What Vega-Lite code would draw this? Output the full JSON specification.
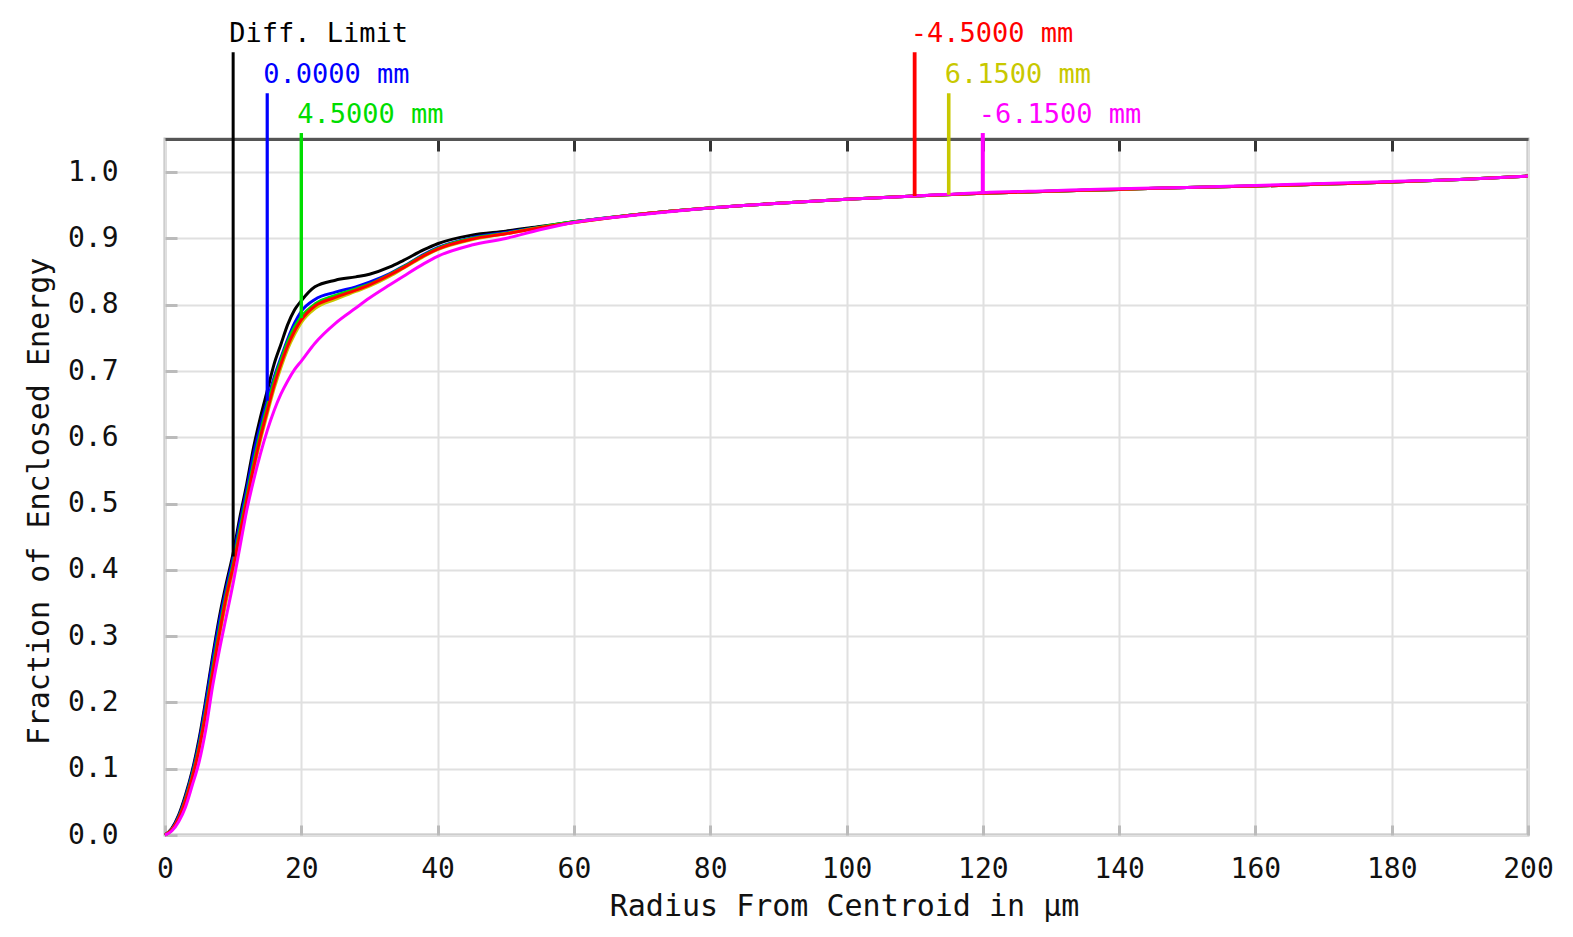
{
  "$schema": "https://vega.github.io/schema/vega-lite/v6.json",
  "width": 1363,
  "height": 696,
  "autosize": "none",
  "padding": {"left": 165, "top": 139, "right": 45, "bottom": 102},
  "background": "white",
  "config": {
    "font": "DejaVu Sans Mono",
    "view": {"stroke": "#bbbbbb", "strokeWidth": 3},
    "axis": {
      "labelFont": "DejaVu Sans Mono",
      "titleFont": "DejaVu Sans Mono",
      "labelColor": "#111111",
      "titleColor": "#111111",
      "labelFontSize": 28,
      "titleFontSize": 30,
      "titleFontWeight": "normal"
    }
  },
  "datasets": {
    "curves": [
      {"s": "Diff. Limit", "r": 0, "e": 0}, {"s": "Diff. Limit", "r": 1, "e": 0.01}, {"s": "Diff. Limit", "r": 2, "e": 0.03},
      {"s": "Diff. Limit", "r": 3, "e": 0.06}, {"s": "Diff. Limit", "r": 4, "e": 0.097}, {"s": "Diff. Limit", "r": 5, "e": 0.145},
      {"s": "Diff. Limit", "r": 6, "e": 0.205}, {"s": "Diff. Limit", "r": 7, "e": 0.27}, {"s": "Diff. Limit", "r": 8, "e": 0.33},
      {"s": "Diff. Limit", "r": 9, "e": 0.38}, {"s": "Diff. Limit", "r": 10, "e": 0.425}, {"s": "Diff. Limit", "r": 11, "e": 0.48},
      {"s": "Diff. Limit", "r": 12, "e": 0.53}, {"s": "Diff. Limit", "r": 13, "e": 0.585}, {"s": "Diff. Limit", "r": 14, "e": 0.63},
      {"s": "Diff. Limit", "r": 15, "e": 0.67}, {"s": "Diff. Limit", "r": 16, "e": 0.71}, {"s": "Diff. Limit", "r": 17, "e": 0.74},
      {"s": "Diff. Limit", "r": 18, "e": 0.77}, {"s": "Diff. Limit", "r": 19, "e": 0.792}, {"s": "Diff. Limit", "r": 20, "e": 0.806},
      {"s": "Diff. Limit", "r": 22, "e": 0.827}, {"s": "Diff. Limit", "r": 25, "e": 0.837}, {"s": "Diff. Limit", "r": 28, "e": 0.842},
      {"s": "Diff. Limit", "r": 30, "e": 0.846}, {"s": "Diff. Limit", "r": 33, "e": 0.857}, {"s": "Diff. Limit", "r": 35, "e": 0.867},
      {"s": "Diff. Limit", "r": 38, "e": 0.883}, {"s": "Diff. Limit", "r": 40, "e": 0.892}, {"s": "Diff. Limit", "r": 45, "e": 0.905},
      {"s": "Diff. Limit", "r": 50, "e": 0.911}, {"s": "Diff. Limit", "r": 55, "e": 0.918}, {"s": "Diff. Limit", "r": 60, "e": 0.925},
      {"s": "Diff. Limit", "r": 70, "e": 0.937}, {"s": "Diff. Limit", "r": 80, "e": 0.946}, {"s": "Diff. Limit", "r": 90, "e": 0.953},
      {"s": "Diff. Limit", "r": 100, "e": 0.959}, {"s": "Diff. Limit", "r": 110, "e": 0.964}, {"s": "Diff. Limit", "r": 120, "e": 0.968},
      {"s": "Diff. Limit", "r": 130, "e": 0.971}, {"s": "Diff. Limit", "r": 140, "e": 0.974}, {"s": "Diff. Limit", "r": 150, "e": 0.977},
      {"s": "Diff. Limit", "r": 160, "e": 0.979}, {"s": "Diff. Limit", "r": 170, "e": 0.982}, {"s": "Diff. Limit", "r": 180, "e": 0.985},
      {"s": "Diff. Limit", "r": 190, "e": 0.989}, {"s": "Diff. Limit", "r": 200, "e": 0.994},

      {"s": "0.0000 mm", "r": 0, "e": 0}, {"s": "0.0000 mm", "r": 1, "e": 0.009}, {"s": "0.0000 mm", "r": 2, "e": 0.028},
      {"s": "0.0000 mm", "r": 3, "e": 0.057}, {"s": "0.0000 mm", "r": 4, "e": 0.094}, {"s": "0.0000 mm", "r": 5, "e": 0.14},
      {"s": "0.0000 mm", "r": 6, "e": 0.2}, {"s": "0.0000 mm", "r": 7, "e": 0.264}, {"s": "0.0000 mm", "r": 8, "e": 0.323},
      {"s": "0.0000 mm", "r": 9, "e": 0.373}, {"s": "0.0000 mm", "r": 10, "e": 0.418}, {"s": "0.0000 mm", "r": 11, "e": 0.472},
      {"s": "0.0000 mm", "r": 12, "e": 0.522}, {"s": "0.0000 mm", "r": 13, "e": 0.575}, {"s": "0.0000 mm", "r": 14, "e": 0.618},
      {"s": "0.0000 mm", "r": 15, "e": 0.655}, {"s": "0.0000 mm", "r": 16, "e": 0.69}, {"s": "0.0000 mm", "r": 17, "e": 0.72},
      {"s": "0.0000 mm", "r": 18, "e": 0.748}, {"s": "0.0000 mm", "r": 19, "e": 0.772}, {"s": "0.0000 mm", "r": 20, "e": 0.79},
      {"s": "0.0000 mm", "r": 22, "e": 0.808}, {"s": "0.0000 mm", "r": 25, "e": 0.819}, {"s": "0.0000 mm", "r": 28, "e": 0.827},
      {"s": "0.0000 mm", "r": 30, "e": 0.834}, {"s": "0.0000 mm", "r": 33, "e": 0.847}, {"s": "0.0000 mm", "r": 35, "e": 0.858},
      {"s": "0.0000 mm", "r": 38, "e": 0.876}, {"s": "0.0000 mm", "r": 40, "e": 0.886}, {"s": "0.0000 mm", "r": 45, "e": 0.901},
      {"s": "0.0000 mm", "r": 50, "e": 0.909}, {"s": "0.0000 mm", "r": 55, "e": 0.917}, {"s": "0.0000 mm", "r": 60, "e": 0.925},
      {"s": "0.0000 mm", "r": 70, "e": 0.937}, {"s": "0.0000 mm", "r": 80, "e": 0.946}, {"s": "0.0000 mm", "r": 90, "e": 0.953},
      {"s": "0.0000 mm", "r": 100, "e": 0.959}, {"s": "0.0000 mm", "r": 110, "e": 0.964}, {"s": "0.0000 mm", "r": 120, "e": 0.968},
      {"s": "0.0000 mm", "r": 130, "e": 0.971}, {"s": "0.0000 mm", "r": 140, "e": 0.974}, {"s": "0.0000 mm", "r": 150, "e": 0.977},
      {"s": "0.0000 mm", "r": 160, "e": 0.979}, {"s": "0.0000 mm", "r": 170, "e": 0.982}, {"s": "0.0000 mm", "r": 180, "e": 0.985},
      {"s": "0.0000 mm", "r": 190, "e": 0.989}, {"s": "0.0000 mm", "r": 200, "e": 0.994},

      {"s": "4.5000 mm", "r": 0, "e": 0}, {"s": "4.5000 mm", "r": 1, "e": 0.008}, {"s": "4.5000 mm", "r": 2, "e": 0.026},
      {"s": "4.5000 mm", "r": 3, "e": 0.054}, {"s": "4.5000 mm", "r": 4, "e": 0.09}, {"s": "4.5000 mm", "r": 5, "e": 0.134},
      {"s": "4.5000 mm", "r": 6, "e": 0.19}, {"s": "4.5000 mm", "r": 7, "e": 0.252}, {"s": "4.5000 mm", "r": 8, "e": 0.312},
      {"s": "4.5000 mm", "r": 9, "e": 0.365}, {"s": "4.5000 mm", "r": 10, "e": 0.41}, {"s": "4.5000 mm", "r": 11, "e": 0.462},
      {"s": "4.5000 mm", "r": 12, "e": 0.512}, {"s": "4.5000 mm", "r": 13, "e": 0.562}, {"s": "4.5000 mm", "r": 14, "e": 0.607},
      {"s": "4.5000 mm", "r": 15, "e": 0.647}, {"s": "4.5000 mm", "r": 16, "e": 0.685}, {"s": "4.5000 mm", "r": 17, "e": 0.716},
      {"s": "4.5000 mm", "r": 18, "e": 0.744}, {"s": "4.5000 mm", "r": 19, "e": 0.766}, {"s": "4.5000 mm", "r": 20, "e": 0.782},
      {"s": "4.5000 mm", "r": 22, "e": 0.801}, {"s": "4.5000 mm", "r": 25, "e": 0.814}, {"s": "4.5000 mm", "r": 28, "e": 0.824},
      {"s": "4.5000 mm", "r": 30, "e": 0.831}, {"s": "4.5000 mm", "r": 33, "e": 0.846}, {"s": "4.5000 mm", "r": 35, "e": 0.857},
      {"s": "4.5000 mm", "r": 38, "e": 0.875}, {"s": "4.5000 mm", "r": 40, "e": 0.885}, {"s": "4.5000 mm", "r": 45, "e": 0.9},
      {"s": "4.5000 mm", "r": 50, "e": 0.908}, {"s": "4.5000 mm", "r": 55, "e": 0.917}, {"s": "4.5000 mm", "r": 60, "e": 0.925},
      {"s": "4.5000 mm", "r": 70, "e": 0.937}, {"s": "4.5000 mm", "r": 80, "e": 0.946}, {"s": "4.5000 mm", "r": 90, "e": 0.953},
      {"s": "4.5000 mm", "r": 100, "e": 0.959}, {"s": "4.5000 mm", "r": 110, "e": 0.964}, {"s": "4.5000 mm", "r": 120, "e": 0.968},
      {"s": "4.5000 mm", "r": 130, "e": 0.971}, {"s": "4.5000 mm", "r": 140, "e": 0.974}, {"s": "4.5000 mm", "r": 150, "e": 0.977},
      {"s": "4.5000 mm", "r": 160, "e": 0.979}, {"s": "4.5000 mm", "r": 170, "e": 0.982}, {"s": "4.5000 mm", "r": 180, "e": 0.985},
      {"s": "4.5000 mm", "r": 190, "e": 0.989}, {"s": "4.5000 mm", "r": 200, "e": 0.994},

      {"s": "6.1500 mm", "r": 0, "e": 0}, {"s": "6.1500 mm", "r": 1, "e": 0.008}, {"s": "6.1500 mm", "r": 2, "e": 0.024},
      {"s": "6.1500 mm", "r": 3, "e": 0.05}, {"s": "6.1500 mm", "r": 4, "e": 0.085}, {"s": "6.1500 mm", "r": 5, "e": 0.127},
      {"s": "6.1500 mm", "r": 6, "e": 0.181}, {"s": "6.1500 mm", "r": 7, "e": 0.24}, {"s": "6.1500 mm", "r": 8, "e": 0.3},
      {"s": "6.1500 mm", "r": 9, "e": 0.354}, {"s": "6.1500 mm", "r": 10, "e": 0.4}, {"s": "6.1500 mm", "r": 11, "e": 0.45},
      {"s": "6.1500 mm", "r": 12, "e": 0.5}, {"s": "6.1500 mm", "r": 13, "e": 0.55}, {"s": "6.1500 mm", "r": 14, "e": 0.595},
      {"s": "6.1500 mm", "r": 15, "e": 0.635}, {"s": "6.1500 mm", "r": 16, "e": 0.673}, {"s": "6.1500 mm", "r": 17, "e": 0.705},
      {"s": "6.1500 mm", "r": 18, "e": 0.733}, {"s": "6.1500 mm", "r": 19, "e": 0.755}, {"s": "6.1500 mm", "r": 20, "e": 0.773},
      {"s": "6.1500 mm", "r": 22, "e": 0.794}, {"s": "6.1500 mm", "r": 25, "e": 0.808}, {"s": "6.1500 mm", "r": 28, "e": 0.82},
      {"s": "6.1500 mm", "r": 30, "e": 0.828}, {"s": "6.1500 mm", "r": 33, "e": 0.843}, {"s": "6.1500 mm", "r": 35, "e": 0.855},
      {"s": "6.1500 mm", "r": 38, "e": 0.873}, {"s": "6.1500 mm", "r": 40, "e": 0.883}, {"s": "6.1500 mm", "r": 45, "e": 0.898},
      {"s": "6.1500 mm", "r": 50, "e": 0.907}, {"s": "6.1500 mm", "r": 55, "e": 0.916}, {"s": "6.1500 mm", "r": 60, "e": 0.924},
      {"s": "6.1500 mm", "r": 70, "e": 0.937}, {"s": "6.1500 mm", "r": 80, "e": 0.946}, {"s": "6.1500 mm", "r": 90, "e": 0.953},
      {"s": "6.1500 mm", "r": 100, "e": 0.959}, {"s": "6.1500 mm", "r": 110, "e": 0.964}, {"s": "6.1500 mm", "r": 120, "e": 0.968},
      {"s": "6.1500 mm", "r": 130, "e": 0.971}, {"s": "6.1500 mm", "r": 140, "e": 0.974}, {"s": "6.1500 mm", "r": 150, "e": 0.977},
      {"s": "6.1500 mm", "r": 160, "e": 0.979}, {"s": "6.1500 mm", "r": 170, "e": 0.982}, {"s": "6.1500 mm", "r": 180, "e": 0.985},
      {"s": "6.1500 mm", "r": 190, "e": 0.989}, {"s": "6.1500 mm", "r": 200, "e": 0.994},

      {"s": "-4.5000 mm", "r": 0, "e": 0}, {"s": "-4.5000 mm", "r": 1, "e": 0.008}, {"s": "-4.5000 mm", "r": 2, "e": 0.025},
      {"s": "-4.5000 mm", "r": 3, "e": 0.052}, {"s": "-4.5000 mm", "r": 4, "e": 0.087}, {"s": "-4.5000 mm", "r": 5, "e": 0.13},
      {"s": "-4.5000 mm", "r": 6, "e": 0.185}, {"s": "-4.5000 mm", "r": 7, "e": 0.245}, {"s": "-4.5000 mm", "r": 8, "e": 0.305},
      {"s": "-4.5000 mm", "r": 9, "e": 0.36}, {"s": "-4.5000 mm", "r": 10, "e": 0.405}, {"s": "-4.5000 mm", "r": 11, "e": 0.455},
      {"s": "-4.5000 mm", "r": 12, "e": 0.505}, {"s": "-4.5000 mm", "r": 13, "e": 0.555}, {"s": "-4.5000 mm", "r": 14, "e": 0.6},
      {"s": "-4.5000 mm", "r": 15, "e": 0.64}, {"s": "-4.5000 mm", "r": 16, "e": 0.678}, {"s": "-4.5000 mm", "r": 17, "e": 0.71},
      {"s": "-4.5000 mm", "r": 18, "e": 0.738}, {"s": "-4.5000 mm", "r": 19, "e": 0.76}, {"s": "-4.5000 mm", "r": 20, "e": 0.777},
      {"s": "-4.5000 mm", "r": 22, "e": 0.798}, {"s": "-4.5000 mm", "r": 25, "e": 0.811}, {"s": "-4.5000 mm", "r": 28, "e": 0.822},
      {"s": "-4.5000 mm", "r": 30, "e": 0.83}, {"s": "-4.5000 mm", "r": 33, "e": 0.845}, {"s": "-4.5000 mm", "r": 35, "e": 0.856},
      {"s": "-4.5000 mm", "r": 38, "e": 0.874}, {"s": "-4.5000 mm", "r": 40, "e": 0.884}, {"s": "-4.5000 mm", "r": 45, "e": 0.899},
      {"s": "-4.5000 mm", "r": 50, "e": 0.907}, {"s": "-4.5000 mm", "r": 55, "e": 0.916}, {"s": "-4.5000 mm", "r": 60, "e": 0.924},
      {"s": "-4.5000 mm", "r": 70, "e": 0.937}, {"s": "-4.5000 mm", "r": 80, "e": 0.946}, {"s": "-4.5000 mm", "r": 90, "e": 0.953},
      {"s": "-4.5000 mm", "r": 100, "e": 0.959}, {"s": "-4.5000 mm", "r": 110, "e": 0.964}, {"s": "-4.5000 mm", "r": 120, "e": 0.968},
      {"s": "-4.5000 mm", "r": 130, "e": 0.971}, {"s": "-4.5000 mm", "r": 140, "e": 0.974}, {"s": "-4.5000 mm", "r": 150, "e": 0.977},
      {"s": "-4.5000 mm", "r": 160, "e": 0.979}, {"s": "-4.5000 mm", "r": 170, "e": 0.982}, {"s": "-4.5000 mm", "r": 180, "e": 0.985},
      {"s": "-4.5000 mm", "r": 190, "e": 0.989}, {"s": "-4.5000 mm", "r": 200, "e": 0.994},

      {"s": "-6.1500 mm", "r": 0, "e": 0}, {"s": "-6.1500 mm", "r": 1, "e": 0.006}, {"s": "-6.1500 mm", "r": 2, "e": 0.02},
      {"s": "-6.1500 mm", "r": 3, "e": 0.042}, {"s": "-6.1500 mm", "r": 4, "e": 0.075}, {"s": "-6.1500 mm", "r": 5, "e": 0.11},
      {"s": "-6.1500 mm", "r": 6, "e": 0.16}, {"s": "-6.1500 mm", "r": 7, "e": 0.225}, {"s": "-6.1500 mm", "r": 8, "e": 0.28},
      {"s": "-6.1500 mm", "r": 9, "e": 0.33}, {"s": "-6.1500 mm", "r": 10, "e": 0.38}, {"s": "-6.1500 mm", "r": 11, "e": 0.435},
      {"s": "-6.1500 mm", "r": 12, "e": 0.49}, {"s": "-6.1500 mm", "r": 13, "e": 0.535}, {"s": "-6.1500 mm", "r": 14, "e": 0.575},
      {"s": "-6.1500 mm", "r": 15, "e": 0.61}, {"s": "-6.1500 mm", "r": 16, "e": 0.64}, {"s": "-6.1500 mm", "r": 17, "e": 0.665},
      {"s": "-6.1500 mm", "r": 18, "e": 0.685}, {"s": "-6.1500 mm", "r": 19, "e": 0.702}, {"s": "-6.1500 mm", "r": 20, "e": 0.715},
      {"s": "-6.1500 mm", "r": 22, "e": 0.742}, {"s": "-6.1500 mm", "r": 25, "e": 0.772}, {"s": "-6.1500 mm", "r": 28, "e": 0.795},
      {"s": "-6.1500 mm", "r": 30, "e": 0.81}, {"s": "-6.1500 mm", "r": 33, "e": 0.83}, {"s": "-6.1500 mm", "r": 35, "e": 0.843},
      {"s": "-6.1500 mm", "r": 38, "e": 0.862}, {"s": "-6.1500 mm", "r": 40, "e": 0.873}, {"s": "-6.1500 mm", "r": 45, "e": 0.89},
      {"s": "-6.1500 mm", "r": 50, "e": 0.9}, {"s": "-6.1500 mm", "r": 55, "e": 0.913}, {"s": "-6.1500 mm", "r": 60, "e": 0.924},
      {"s": "-6.1500 mm", "r": 70, "e": 0.936}, {"s": "-6.1500 mm", "r": 80, "e": 0.946}, {"s": "-6.1500 mm", "r": 90, "e": 0.953},
      {"s": "-6.1500 mm", "r": 100, "e": 0.959}, {"s": "-6.1500 mm", "r": 110, "e": 0.964}, {"s": "-6.1500 mm", "r": 120, "e": 0.969},
      {"s": "-6.1500 mm", "r": 130, "e": 0.972}, {"s": "-6.1500 mm", "r": 140, "e": 0.975}, {"s": "-6.1500 mm", "r": 150, "e": 0.977},
      {"s": "-6.1500 mm", "r": 160, "e": 0.98}, {"s": "-6.1500 mm", "r": 170, "e": 0.983}, {"s": "-6.1500 mm", "r": 180, "e": 0.986},
      {"s": "-6.1500 mm", "r": 190, "e": 0.989}, {"s": "-6.1500 mm", "r": 200, "e": 0.994}
    ],
    "markers": [
      {"s": "Diff. Limit", "x": 10, "lo": 0.42, "hi": 1.181},
      {"s": "0.0000 mm", "x": 15, "lo": 0.655, "hi": 1.119},
      {"s": "4.5000 mm", "x": 20, "lo": 0.78, "hi": 1.059},
      {"s": "-4.5000 mm", "x": 110, "lo": 0.964, "hi": 1.181},
      {"s": "6.1500 mm", "x": 115, "lo": 0.966, "hi": 1.119},
      {"s": "-6.1500 mm", "x": 120, "lo": 0.968, "hi": 1.059}
    ]
  },
  "resolve": {"axis": {"x": "independent", "y": "independent"}},
  "layer": [
    {
      "data": {"name": "curves"},
      "mark": {"type": "line", "strokeWidth": 3, "interpolate": "monotone"},
      "encoding": {
        "x": {
          "field": "r",
          "type": "quantitative",
          "scale": {"domain": [0, 200], "nice": false, "zero": false},
          "axis": {
            "values": [0, 20, 40, 60, 80, 100, 120, 140, 160, 180, 200],
            "title": "Radius From Centroid in μm",
            "grid": true,
            "gridColor": "#e0e0e0",
            "gridWidth": 2,
            "domain": false,
            "tickColor": "#bbbbbb",
            "tickWidth": 3,
            "tickSize": -10,
            "labelPadding": 30,
            "labelFlush": false,
            "titleX": 679,
            "titleY": 80,
            "titleBaseline": "alphabetic",
            "titleAlign": "center"
          }
        },
        "y": {
          "field": "e",
          "type": "quantitative",
          "scale": {"domain": [0, 1.05], "nice": false},
          "axis": {
            "values": [0, 0.1, 0.2, 0.3, 0.4, 0.5, 0.6, 0.7, 0.8, 0.9, 1.0],
            "format": ".1f",
            "title": "Fraction of Enclosed Energy",
            "grid": true,
            "gridColor": "#e0e0e0",
            "gridWidth": 2,
            "domain": false,
            "tickColor": "#bbbbbb",
            "tickWidth": 3,
            "tickSize": -12,
            "labelPadding": 59,
            "labelFlush": false,
            "titleAngle": -90,
            "titleX": -117,
            "titleY": 362,
            "titleBaseline": "alphabetic",
            "titleAlign": "center"
          }
        },
        "color": {
          "field": "s",
          "type": "nominal",
          "scale": {
            "domain": ["Diff. Limit", "0.0000 mm", "4.5000 mm", "6.1500 mm", "-4.5000 mm", "-6.1500 mm"],
            "range": ["#000000", "#0000ff", "#00dd00", "#c8c800", "#ff0000", "#ff00ff"]
          },
          "legend": null
        }
      }
    },
    {
      "data": {"name": "markers"},
      "mark": {"type": "rule"},
      "encoding": {
        "x": {
          "field": "x",
          "type": "quantitative",
          "axis": {
            "orient": "top",
            "values": [20, 40, 60, 80, 100, 120, 140, 160, 180],
            "labels": false,
            "title": null,
            "grid": false,
            "domainColor": "#555555",
            "domainWidth": 3,
            "tickColor": "#333333",
            "tickWidth": 3,
            "tickSize": -12
          }
        },
        "y": {"field": "lo", "type": "quantitative", "axis": null},
        "y2": {"field": "hi"},
        "color": {
          "field": "s",
          "type": "nominal",
          "scale": {
            "domain": ["Diff. Limit", "0.0000 mm", "4.5000 mm", "6.1500 mm", "-4.5000 mm", "-6.1500 mm"],
            "range": ["#222222", "#0000ff", "#33ee33", "#c8c800", "#ff3333", "#ff33ff"]
          },
          "legend": null
        },
        "strokeWidth": {
          "field": "s",
          "type": "nominal",
          "scale": {
            "domain": ["Diff. Limit", "0.0000 mm", "4.5000 mm", "6.1500 mm", "-4.5000 mm", "-6.1500 mm"],
            "range": [3, 4, 3, 3, 5, 4]
          },
          "legend": null
        }
      }
    },
    {
      "data": {"name": "markers"},
      "mark": {"type": "text", "align": "left", "baseline": "alphabetic", "dx": -4, "dy": -10, "fontSize": 27, "font": "DejaVu Sans Mono"},
      "encoding": {
        "x": {"field": "x", "type": "quantitative", "axis": null},
        "y": {"field": "hi", "type": "quantitative", "axis": null},
        "text": {"field": "s", "type": "nominal"},
        "color": {
          "field": "s",
          "type": "nominal",
          "scale": {
            "domain": ["Diff. Limit", "0.0000 mm", "4.5000 mm", "6.1500 mm", "-4.5000 mm", "-6.1500 mm"],
            "range": ["#111111", "#1a1aff", "#22dd22", "#c8c800", "#ff2222", "#ff22ff"]
          },
          "legend": null
        }
      }
    }
  ]
}
